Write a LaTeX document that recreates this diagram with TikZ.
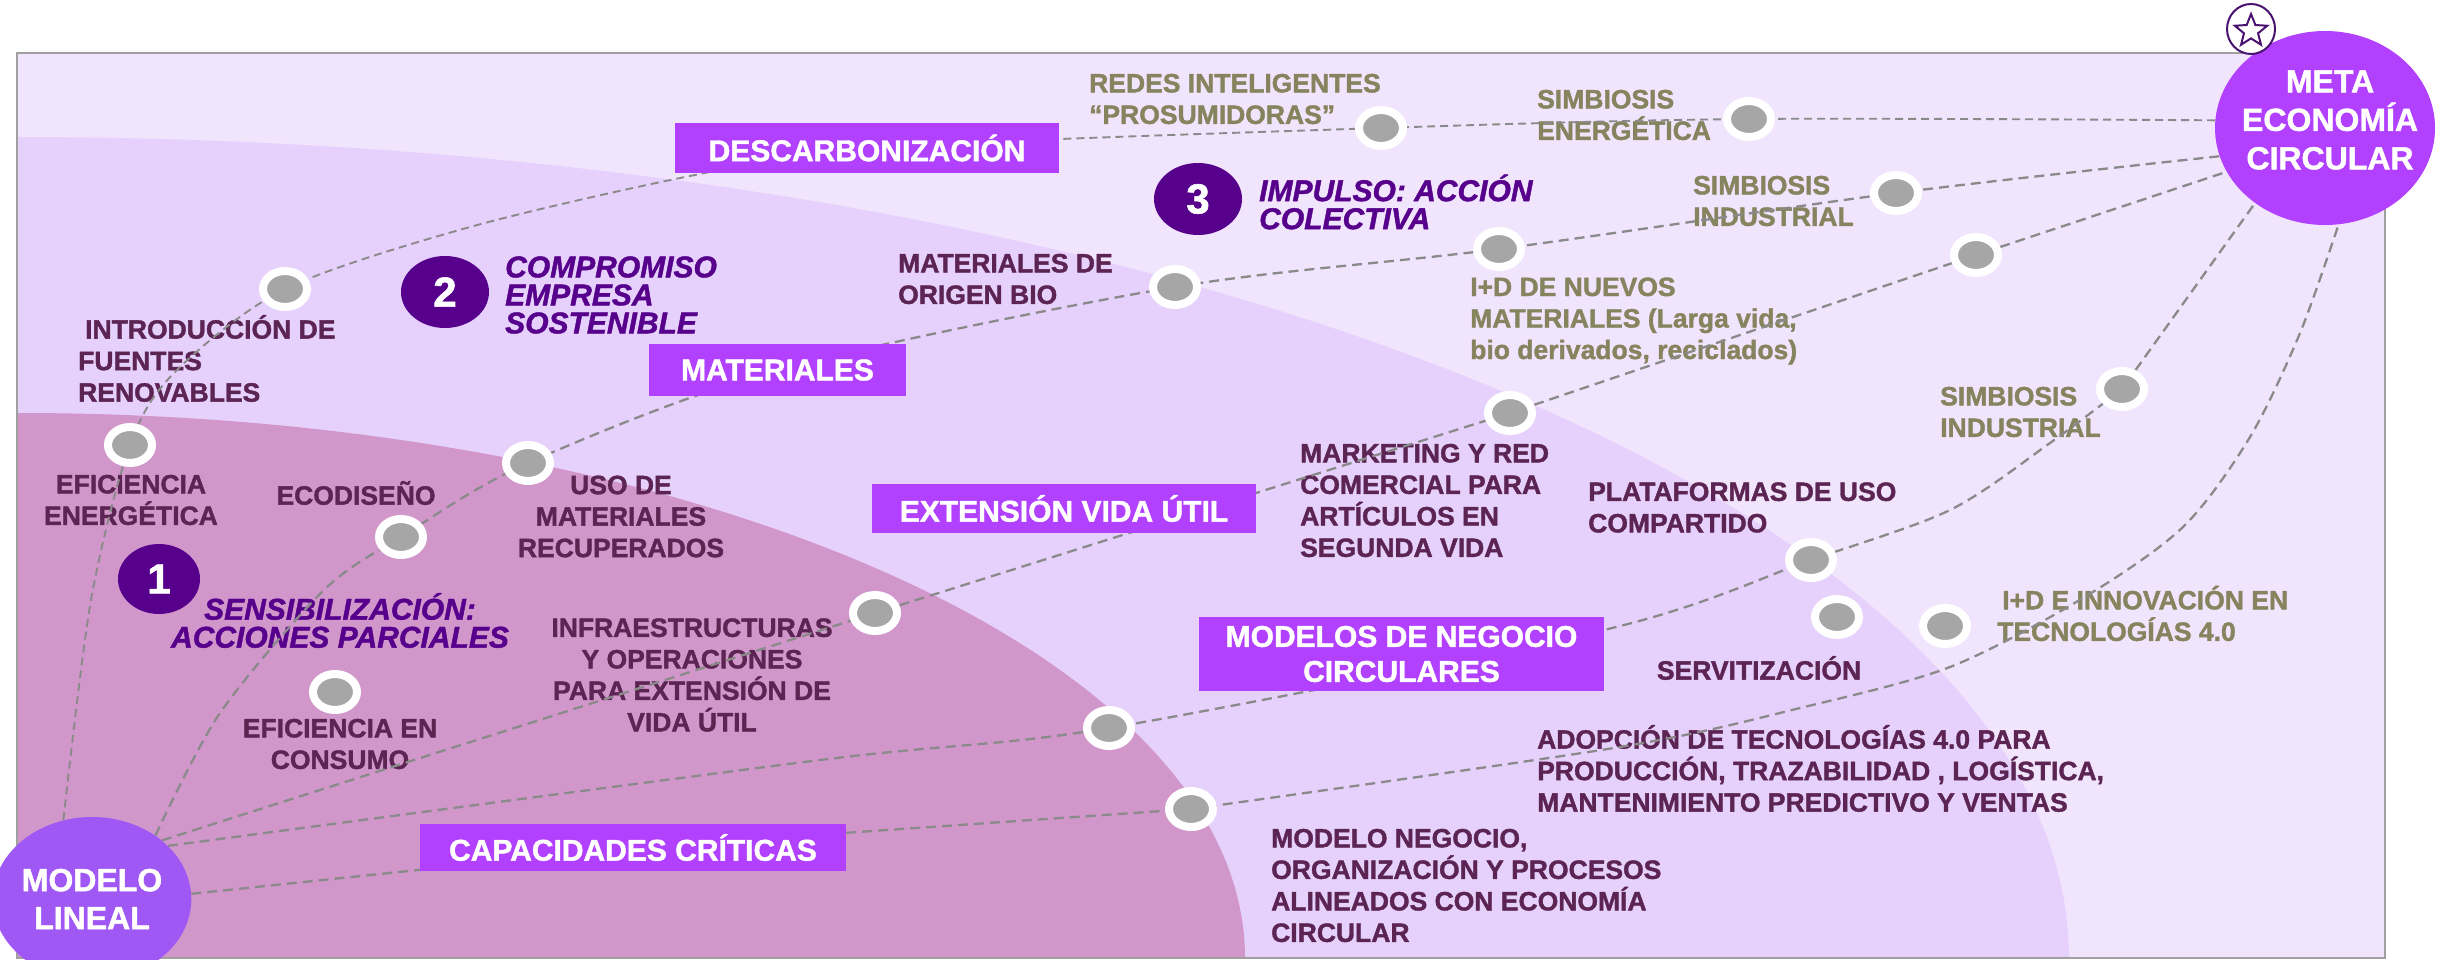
\documentclass[tikz,border=0pt]{standalone}
\usepackage{fontspec}
\setmainfont{Liberation Sans}[BoldFeatures={FakeBold=1.4},BoldItalicFeatures={FakeBold=1.4}]
\usetikzlibrary{shapes.geometric}
\definecolor{bgA}{HTML}{F1E4FD}
\definecolor{bgB}{HTML}{E6D1FC}
\definecolor{bgC}{HTML}{D197CB}
\definecolor{boxc}{HTML}{B240FF}
\definecolor{mlc}{HTML}{A058F5}
\definecolor{plum}{HTML}{5C2452}
\definecolor{olive}{HTML}{86845E}
\definecolor{deep}{HTML}{56008C}
\definecolor{starc}{HTML}{4A1270}
\definecolor{dotg}{HTML}{A6A6A6}
\definecolor{lineg}{HTML}{8A8A8A}
\definecolor{framec}{HTML}{A0A0A0}
\pgfdeclarelayer{bg}
\pgfdeclarelayer{labels}
\pgfdeclarelayer{lines}
\pgfsetlayers{bg,labels,lines,main}
\begin{document}
\begin{tikzpicture}[x=1pt,y=-1pt,
  dot/.style={ellipse,minimum width=44pt,minimum height=36pt,inner sep=0pt,fill=dotg,draw=white,line width=8pt},
  conn/.style={draw=lineg,line width=2.3pt,dash pattern=on 10pt off 6pt},
  connA/.style={draw=lineg,line width=1.9pt,dash pattern=on 8pt off 5pt},
  lab/.style={font=\fontsize{26.5}{31.5}\selectfont\bfseries,text=plum,inner sep=0pt},
  olab/.style={lab,text=olive},
  boxn/.style={fill=boxc,text=white,font=\fontsize{30}{35}\selectfont\bfseries,inner sep=0pt,align=center},
  ttl/.style={font=\fontsize{30}{28}\selectfont\bfseries\itshape,text=deep,inner sep=0pt},
  numc/.style={ellipse,fill=deep,text=white,font=\fontsize{42}{42}\selectfont\bfseries,inner sep=0pt},
  bigell/.style={ellipse,inner sep=0pt,text=white,font=\fontsize{32}{38}\selectfont\bfseries,align=center},
  bigtxt/.style={inner sep=0pt,text=white,font=\fontsize{32}{38.5}\selectfont\bfseries,align=center},
]
\useasboundingbox (0,0) rectangle (2440,960);
\begin{pgfonlayer}{bg}
  \fill[white] (0,0) rectangle (2440,960);
  \begin{scope}
    \clip (17,53) rectangle (2385,958);
    \fill[bgA] (17,53) rectangle (2385,958);
    \fill[bgB] (17,958) ellipse [x radius=2052pt, y radius=821pt];
    \fill[bgC] (19,958) ellipse [x radius=1226pt, y radius=545pt];
  \end{scope}
  \draw[framec,line width=2pt] (17,53) rectangle (2385,958);
\end{pgfonlayer}

% big ellipses
\node[bigell,fill=mlc,minimum width=184pt,minimum height=164pt] (ML) at (92,899) {MODELO\\LINEAL};
\node[bigell,fill=boxc,minimum width=220pt,minimum height=194pt] (META) at (2325,128) {};
\node[bigtxt] (METAt) at (2330,120) {META\\ECONOMÍA\\CIRCULAR};

% star icon
\node[ellipse,draw=starc,fill=white,line width=2pt,minimum width=48pt,minimum height=50pt,inner sep=0pt] (starring) at (2251,29) {};
\node[star,star points=5,star point ratio=2.3,draw=starc,line width=2pt,minimum size=34pt,inner sep=0pt] (starshape) at (2251,31) {};

% dots
\node[dot] (nEfic) at (130,445) {};
\node[dot] (nIntro) at (285,289) {};
\node[dot] (nUso) at (528,463) {};
\node[dot] (nEcod) at (401,537) {};
\node[dot] (nEfcons) at (335,692) {};
\node[dot] (nInfra) at (875,613) {};
\node[dot] (nMerc) at (1109,728) {};
\node[dot] (nCap) at (1191,809) {};
\node[dot] (nRedes) at (1381,128) {};
\node[dot] (nMatbio) at (1175,287) {};
\node[dot] (nId) at (1499,249) {};
\node[dot] (nMkt) at (1510,413) {};
\node[dot] (nSimbE) at (1749,119) {};
\node[dot] (nSimbI1) at (1896,193) {};
\node[dot] (nX) at (1976,255) {};
\node[dot] (nSimbI2) at (2122,389) {};
\node[dot] (nPlat) at (1811,560) {};
\node[dot] (nServ) at (1837,617) {};
\node[dot] (nIdtec) at (1945,626) {};

% boxes
\node[boxn,minimum width=384pt,minimum height=50pt] (DESC) at (867,148) {DESCARBONIZACIÓN};
\node[boxn,minimum width=257pt,minimum height=52pt] (MAT) at (777.5,370) {MATERIALES};
\node[boxn,minimum width=384pt,minimum height=49pt] (EXT) at (1064,508.5) {EXTENSIÓN VIDA ÚTIL};
\node[boxn,minimum width=405pt,minimum height=74pt] (MNC) at (1401.5,654) {MODELOS DE NEGOCIO\\CIRCULARES};
\node[boxn,minimum width=426pt,minimum height=47pt] (CAP) at (633,847.5) {CAPACIDADES CRÍTICAS};

% numbered circles
\node[numc,minimum width=82pt,minimum height=70pt] (c1) at (159,579) {1};
\node[numc,minimum width=88pt,minimum height=72pt] (c2) at (445,292) {2};
\node[numc,minimum width=88pt,minimum height=72pt] (c3) at (1198,199) {3};

% labels
\begin{pgfonlayer}{labels}
\node[lab,anchor=west,align=left] (tIntro) at (78,358.5) {\hspace*{7pt}INTRODUCCIÓN DE\\FUENTES\\RENOVABLES};
\node[lab,align=center] (tEfic) at (131,500) {EFICIENCIA\\ENERGÉTICA};
\node[lab] (tEcod) at (356,493) {ECODISEÑO};
\node[lab,align=center] (tUso) at (621,516.5) {USO DE\\MATERIALES\\RECUPERADOS};
\node[lab,align=center] (tInfra) at (692,675) {INFRAESTRUCTURAS\\Y OPERACIONES\\PARA EXTENSIÓN DE\\VIDA ÚTIL};
\node[lab,align=center] (tEfcons) at (340,744) {EFICIENCIA EN\\CONSUMO};
\node[lab,anchor=west,align=left] (tMatbio) at (898,279) {MATERIALES DE\\ORIGEN BIO};
\node[lab,anchor=west,align=left] (tMkt) at (1300,500.5) {MARKETING Y RED\\COMERCIAL PARA\\ARTÍCULOS EN\\SEGUNDA VIDA};
\node[lab,anchor=west,align=left] (tPlat) at (1588,507.5) {PLATAFORMAS DE USO\\COMPARTIDO};
\node[lab] (tServ) at (1759,668) {SERVITIZACIÓN};
\node[lab,anchor=west,align=left] (tAdop) at (1537,768.5) {ADOPCIÓN DE TECNOLOGÍAS 4.0 PARA\\PRODUCCIÓN, TRAZABILIDAD , LOGÍSTICA,\\MANTENIMIENTO PREDICTIVO Y VENTAS};
\node[lab,anchor=west,align=left] (tModneg) at (1271,885.5) {MODELO NEGOCIO,\\ORGANIZACIÓN Y PROCESOS\\ALINEADOS CON ECONOMÍA\\CIRCULAR};
\node[olab,anchor=west,align=left] (tRedes) at (1089,99) {REDES INTELIGENTES\\“PROSUMIDORAS”};
\node[olab,anchor=west,align=left] (tSimbE) at (1537,115) {SIMBIOSIS\\ENERGÉTICA};
\node[olab,anchor=west,align=left] (tSimbI1) at (1693,201) {SIMBIOSIS\\INDUSTRIAL};
\node[olab,anchor=west,align=left] (tId) at (1470,321) {I+D DE NUEVOS\\MATERIALES (Larga vida,\\bio derivados, reciclados)};
\node[olab,anchor=west,align=left] (tSimbI2) at (1940,412) {SIMBIOSIS\\INDUSTRIAL};
\node[olab,anchor=west,align=left] (tIdtec) at (1997,613.5) {\hspace*{5pt}I+D E INNOVACIÓN EN\\TECNOLOGÍAS 4.0};
\node[ttl,anchor=west,align=left] (tComp) at (505,295) {COMPROMISO\\EMPRESA\\SOSTENIBLE};
\node[ttl,anchor=west,align=left] (tImp) at (1259,202) {IMPULSO: ACCIÓN\\COLECTIVA};
\node[ttl,align=center] (tSens) at (340,620.5) {SENSIBILIZACIÓN:\\ACCIONES PARCIALES};
\end{pgfonlayer}

% connectors
\begin{pgfonlayer}{lines}
\draw[connA] plot[smooth] coordinates {(ML.110) (91,600) (nEfic) (175,372) (nIntro) (470,227) (690,176) (DESC) (nRedes) (nSimbE) (META.176)};
\draw[conn] plot[smooth] coordinates {(ML.45) (220,713) (324,590) (nEcod) (nUso) (MAT) (nMatbio) (nId) (nSimbI1) (META.195)};
\draw[conn] (ML.40) -- (nInfra) -- (nMkt) -- (nX) -- (META.204);
\draw[conn] plot[smooth] coordinates {(ML.35) (820,760) (nMerc) (1608,629) (nPlat) (1950,510) (2050,443) (nSimbI2)};
\draw[conn] (nSimbI2) -- (META.227);
\draw[conn] (ML.3) -- (CAP) -- (nCap);
\draw[conn] plot[smooth] coordinates {(nCap) (1620,747) (1800,708) (1950,667) (2083,598) (2183,527) (2250,437) (2300,333) (META.278)};
\end{pgfonlayer}
\end{tikzpicture}
\end{document}
